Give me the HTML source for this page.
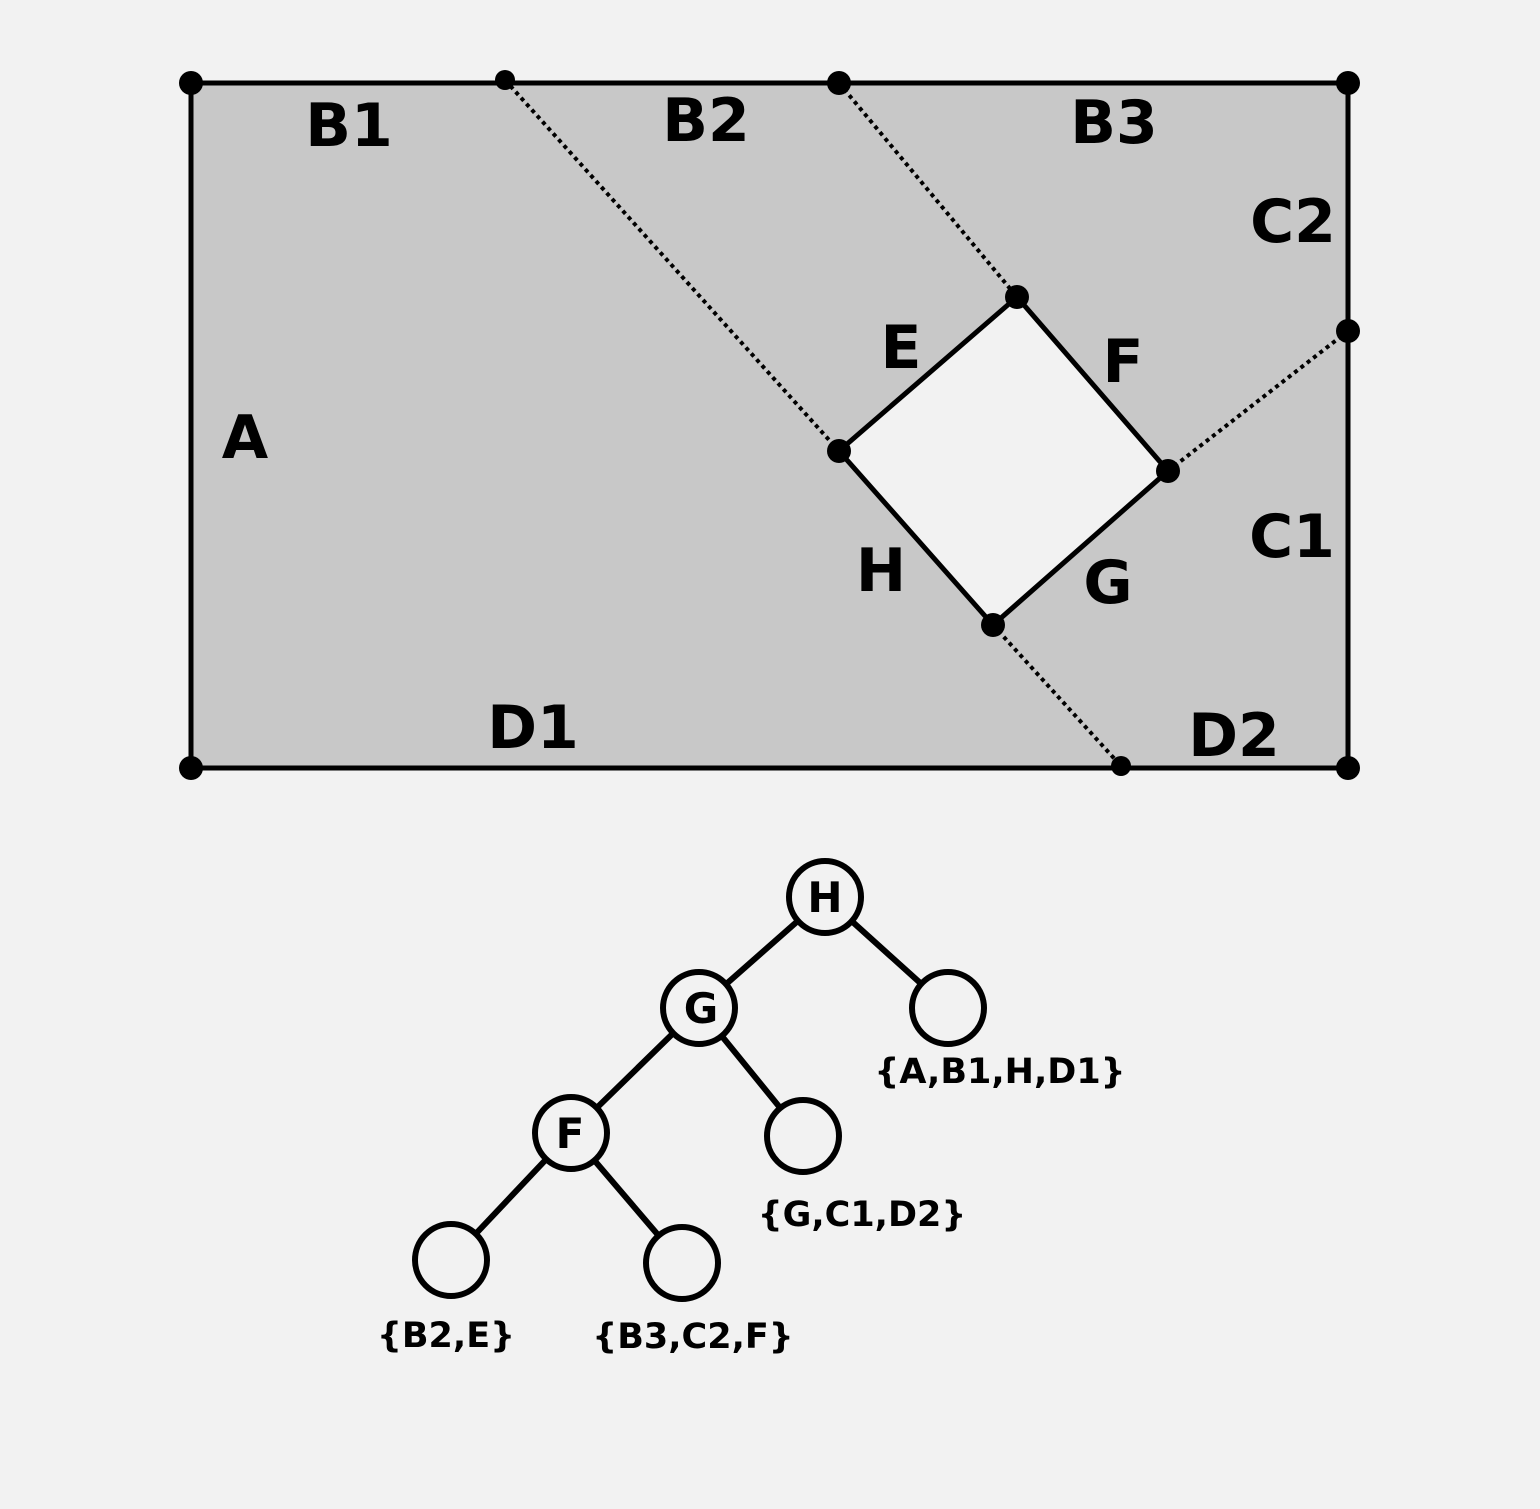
<!DOCTYPE html>
<html><head><style>html,body{margin:0;padding:0;background:#f2f2f2}</style></head><body>
<svg width="1540" height="1509" xmlns="http://www.w3.org/2000/svg" style="display:block">
<rect width="1540" height="1509" fill="#f2f2f2"/>
<rect x="191" y="83" width="1157" height="685" fill="#c8c8c8" stroke="#000" stroke-width="5"/>
<polygon points="1017,297 1168,471 993,625 839,451" fill="#f2f2f2" stroke="#000" stroke-width="5"/>
<g stroke="#000" stroke-width="4" stroke-dasharray="4,4">
<line x1="505" y1="80" x2="839" y2="451"/>
<line x1="839" y1="83" x2="1017" y2="297"/>
<line x1="1348" y1="331" x2="1168" y2="471"/>
<line x1="993" y1="625" x2="1121" y2="766"/>
</g>
<g fill="#000">
<circle cx="191" cy="83" r="12"/><circle cx="1348" cy="83" r="12"/>
<circle cx="191" cy="768" r="12"/><circle cx="1348" cy="768" r="12"/>
<circle cx="505" cy="80" r="10"/><circle cx="839" cy="83" r="12"/>
<circle cx="1017" cy="297" r="12"/><circle cx="1168" cy="471" r="12"/>
<circle cx="993" cy="625" r="12"/><circle cx="839" cy="451" r="12"/>
<circle cx="1348" cy="331" r="12"/><circle cx="1121" cy="766" r="10"/>
</g>
<g font-family="DejaVu Sans, sans-serif" font-weight="bold" font-size="60" text-anchor="middle" fill="#000">
<text x="349" y="146">B1</text><text x="706" y="141">B2</text><text x="1114" y="143">B3</text>
<text x="1293" y="242">C2</text><text x="901" y="368">E</text><text x="1123" y="382">F</text>
<text x="245" y="458">A</text><text x="1292" y="557">C1</text><text x="881" y="591">H</text>
<text x="1108" y="603">G</text><text x="533" y="748">D1</text><text x="1234" y="756">D2</text>
</g>
<g stroke="#000" stroke-width="6">
<line x1="825" y1="897" x2="699" y2="1008"/><line x1="825" y1="897" x2="948" y2="1008"/>
<line x1="699" y1="1008" x2="571" y2="1133"/><line x1="699" y1="1008" x2="803" y2="1136"/>
<line x1="571" y1="1133" x2="451" y2="1260"/><line x1="571" y1="1133" x2="682" y2="1263"/>
</g>
<g fill="#f2f2f2" stroke="#000" stroke-width="6">
<circle cx="825" cy="897" r="36"/><circle cx="699" cy="1008" r="36"/><circle cx="948" cy="1008" r="36"/>
<circle cx="571" cy="1133" r="36"/><circle cx="803" cy="1136" r="36"/>
<circle cx="451" cy="1260" r="36"/><circle cx="682" cy="1263" r="36"/>
</g>
<g font-family="DejaVu Sans, sans-serif" font-weight="bold" font-size="42" text-anchor="middle" fill="#000">
<text x="825" y="912">H</text><text x="701" y="1023">G</text><text x="570" y="1148">F</text>
</g>
<g font-family="DejaVu Sans, sans-serif" font-weight="bold" font-size="35" text-anchor="middle" fill="#000">
<text x="1000" y="1083">{A,B1,H,D1}</text><text x="862" y="1226">{G,C1,D2}</text>
<text x="446" y="1347">{B2,E}</text><text x="693" y="1348">{B3,C2,F}</text>
</g>
</svg>
</body></html>
